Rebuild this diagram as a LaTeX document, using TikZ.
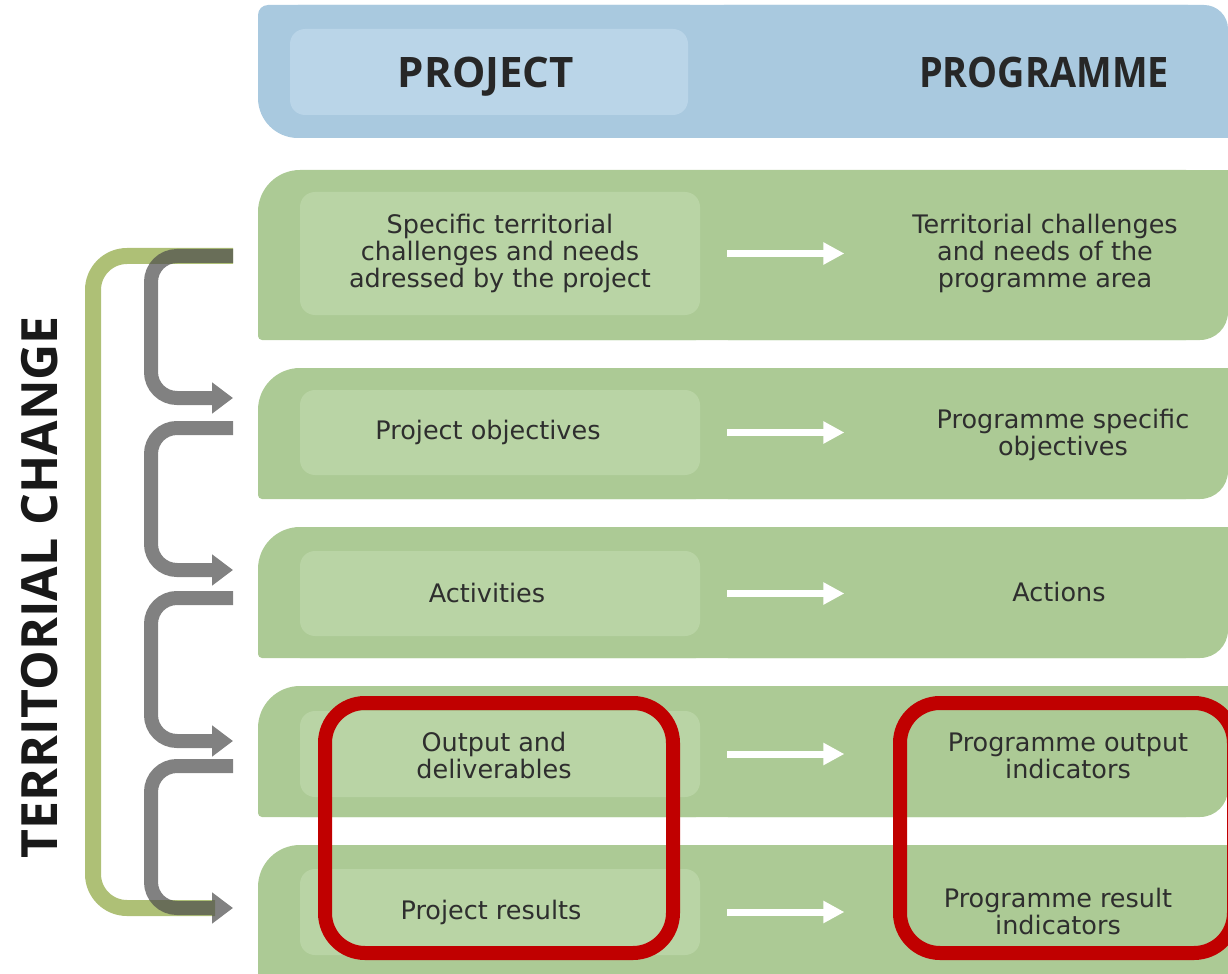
\documentclass[tikz,border=0pt]{standalone}
\usepackage{fontspec}
\setmainfont{DejaVu Sans}
\newfontfamily\headfont{Open Sans}
\usetikzlibrary{arrows.meta,positioning}

\definecolor{headblue}{RGB}{169,201,223}
\definecolor{headinner}{RGB}{186,213,232}
\definecolor{bandgreen}{RGB}{172,202,149}
\definecolor{boxgreen}{RGB}{185,212,165}
\definecolor{bracketgreen}{RGB}{174,192,118}
\definecolor{flowgray}{RGB}{76,76,76}
\definecolor{markred}{RGB}{192,0,0}
\definecolor{inkgray}{RGB}{46,46,46}

\begin{document}
\begin{tikzpicture}[x=0.5pt,y=-0.5pt,
  label/.style={text=inkgray, align=center, inner sep=0pt,
    font=\fontsize{12.75}{13.5}\selectfont},
  title/.style={text=inkgray!85!black, inner sep=0pt, anchor=base,
    font=\headfont\bfseries\fontsize{21}{24}\selectfont},
  innerbox/.style={fill=boxgreen, rounded corners=7.5pt, minimum width=200pt},
  pointer/.style={draw=white, line width=3.5pt,
    -{Triangle[length=10.5pt,width=10.5pt]}},
  flow/.style={draw=flowgray, line width=7pt, rounded corners=13pt,
    -{Triangle[length=10.5pt,width=15pt]}},
  bracket/.style={draw=bracketgreen, line width=8pt, rounded corners=17pt},
  marker/.style={draw=markred, line width=7pt, rounded corners=20pt}]
  \useasboundingbox (0,0) rectangle (1228,974);
  \clip (0,0) rectangle (1228,974);

  % header band
  \fill[headblue, rounded corners=20pt] (258,5) rectangle (1228,138);
  \fill[headblue, rounded corners=5pt] (258,5) rectangle (700,70);
  \fill[headblue, rounded corners=12pt] (700,5) rectangle (1228,70);
  \fill[headblue] (700,70) rectangle (1228,138);
  \fill[headinner, rounded corners=7.5pt] (290,29) rectangle (688,115);
  \node[title] (project) at (486,88) {PROJECT};
  \node[title] (programme) at (1044,88) {\scalebox{0.9}[1]{PROGRAMME}};

  % green bands
  \foreach \t/\b in {170/340, 368/499, 527/658, 686/817, 845/1010}{
    \fill[bandgreen, rounded corners=21pt] (258,\t) rectangle (1228,\b);
    \fill[bandgreen, rounded corners=2pt] (258,\t+60) rectangle (700,\b);
    \fill[bandgreen] (700,\t) rectangle (1228,\t+60);
    \fill[bandgreen, rounded corners=14pt] (700,\t+60) rectangle (1228,\b);
  }

  % project column
  \node[innerbox, minimum height=61.5pt] (pj1) at (500,253.5) {};
  \node[innerbox, minimum height=42.5pt] (pj2) at (500,432.5) {};
  \node[innerbox, minimum height=42.5pt] (pj3) at (500,593.5) {};
  \node[innerbox, minimum height=43pt] (pj4) at (500,754) {};
  \node[innerbox, minimum height=43pt] (pj5) at (500,912) {};
  \node[label] (t1) at (500,253) {Specific territorial\\challenges and needs\\adressed by the project};
  \node[label] (t2) at (488,432) {Project objectives};
  \node[label] (t3) at (487,593) {Activities};
  \node[label] (t4) at (494,755) {Output and\\deliverables};
  \node[label] (t5) at (491,912) {Project results};

  % programme column
  \node[label] (pg1) at (1045,253) {Territorial challenges\\and needs of the\\programme area};
  \node[label] (pg2) at (1063,435) {Programme specific\\objectives};
  \node[label] (pg3) at (1059,592) {Actions};
  \node[label] (pg4) at (1068,756) {Programme output\\indicators};
  \node[label] (pg5) at (1058,911) {Programme result\\indicators};

  \foreach \i in {1,...,5}
    \draw[pointer] ([xshift=13.5pt]pj\i.east) -- ++(117,0);

  % territorial change
  \coordinate (out1) at (233,256);
  \coordinate (in2) at (233,398);
  \coordinate (out2) at (233,428);
  \coordinate (in3) at (233,570);
  \coordinate (out3) at (233,598);
  \coordinate (in4) at (233,741);
  \coordinate (out4) at (233,766);
  \coordinate (in5) at (233,908);
  \draw[bracket] (out1) -- ++(-140,0) |- ([xshift=-9pt]in5);
  \begin{scope}[transparency group, opacity=.7]
    \foreach \a/\b in {1/2,2/3,3/4,4/5}
      \draw[flow] (out\a) -- ++(-82,0) |- (in\b);
  \end{scope}
  \node[title, anchor=center, rotate=90, text=black!90,
    font=\headfont\bfseries\fontsize{25}{28}\selectfont]
    (change) at (40,587) {TERRITORIAL CHANGE};

  % highlighted indicators
  \draw[marker] (325,703) rectangle (673,953);
  \draw[marker] (900,703) rectangle (1234,953);
\end{tikzpicture}
\end{document}
